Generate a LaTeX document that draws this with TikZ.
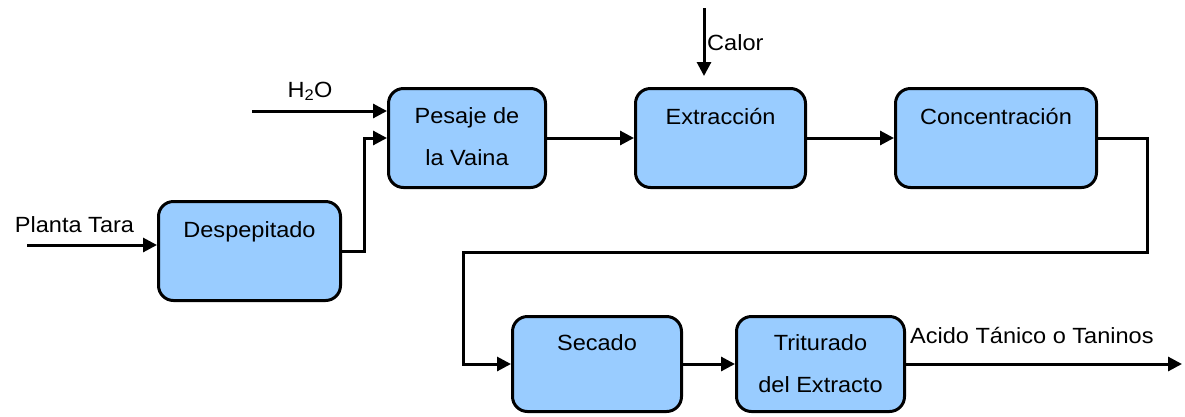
\documentclass[tikz,border=0pt]{standalone}
\usepackage{fontspec}
\setmainfont{Liberation Sans}[FakeStretch=1.07]
\usetikzlibrary{arrows.meta}
\definecolor{boxblue}{RGB}{153,204,255}
\begin{document}
\begin{tikzpicture}[x=1pt,y=-1pt,
  box/.style={draw=black, line width=3pt, fill=boxblue, rounded corners=15pt, inner sep=0pt},
  txt/.style={anchor=base, inner sep=0pt, font=\fontsize{22}{26}\selectfont},
  conn/.style={line width=3pt, -{Triangle[length=14pt,width=14pt]}}]
\useasboundingbox (0,0) rectangle (1185,416);
% boxes
\node[box, minimum width=182pt, minimum height=99pt] (desp) at (249.5,251) {};
\node[box, minimum width=157pt, minimum height=99pt] (pes) at (467,138) {};
\node[box, minimum width=170pt, minimum height=99pt] (extr) at (720.5,138) {};
\node[box, minimum width=201pt, minimum height=99pt] (conc) at (996,138) {};
\node[box, minimum width=169pt, minimum height=95pt] (sec) at (597,364) {};
\node[box, minimum width=168pt, minimum height=95pt] (trit) at (820.5,364) {};
% box texts
\node[txt] (tdesp) at (249.5,237) {Despepitado};
\node[txt] (tpes1) at (467,123) {Pesaje de};
\node[txt] (tpes2) at (467,165) {la Vaina};
\node[txt] (textr) at (720.5,124) {Extracción};
\node[txt] (tconc) at (996,124) {Concentración};
\node[txt] (tsec) at (597,350) {Secado};
\node[txt] (ttrit1) at (820.5,350) {Triturado};
\node[txt] (ttrit2) at (820.5,392) {del Extracto};
% free labels
\node[txt] (lplanta) at (74.5,232) {Planta Tara};
\node[txt] (lh2o) at (310,97) {H\textsubscript{2}O};
\node[txt, anchor=base west] (lcalor) at (707,50) {Calor};
\node[txt, anchor=base west] (lacido) at (910,343) {Acido Tánico o Taninos};
% coordinates
\coordinate (pin) at (27,245);
\coordinate (hin) at (252,111);
\coordinate (cs) at (704,8);
\coordinate (ce) at (704,76);
\coordinate (b1) at (1147,252);
\coordinate (b2) at (463,252);
\coordinate (out) at (1182,364);
% connectors
\draw[conn] (pin) -- (pin -| desp.west);
\draw[conn] (desp.east) -- ++(22,0) |- (pes.west);
\draw[conn] (hin) -- (hin -| pes.west);
\draw[conn] (pes.east) -- (extr.west);
\draw[conn] (cs) -- (ce);
\draw[conn] (extr.east) -- (conc.west);
\draw[conn] (conc.east) -| (b1) -- (b2) |- (sec.west);
\draw[conn] (sec.east) -- (trit.west);
\draw[conn] (trit.east) -- (out);
\end{tikzpicture}
\end{document}
